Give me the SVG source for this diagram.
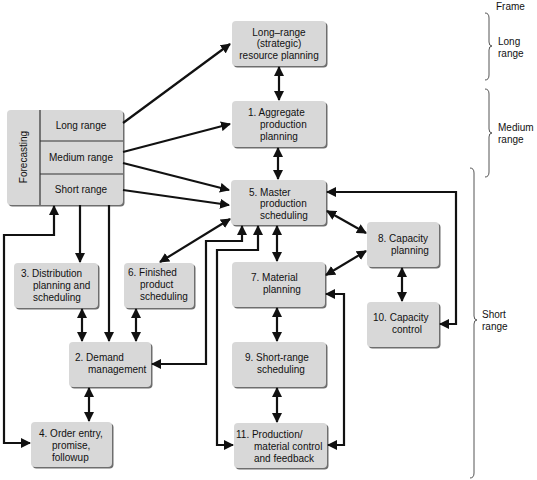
<svg xmlns="http://www.w3.org/2000/svg" width="537" height="480" viewBox="0 0 537 480">
<defs>
<marker id="ah" viewBox="0 0 10 10" refX="9" refY="5" markerWidth="10" markerHeight="10" markerUnits="userSpaceOnUse" orient="auto-start-reverse">
<path d="M0,0 L10,5 L0,10 z" fill="#111"/>
</marker>
</defs>
<style>
.sh{fill:#6e6e6e}
.bx{fill:#d8d8d8}
.t{font-family:"Liberation Sans",Arial,sans-serif;font-size:10px;fill:#111}
.c{text-anchor:middle}
.ln{fill:none;stroke:#111;stroke-width:2.2;marker-end:url(#ah)}
.bi{marker-start:url(#ah)}
.br{fill:none;stroke:#555;stroke-width:1}
.dv{stroke:#333;stroke-width:1.2}
</style>
<rect width="537" height="480" fill="#fff"/>

<g id="forecasting">
<rect class="sh" x="8.5" y="111.5" width="116" height="95" rx="4"/>
<rect class="bx" x="7" y="110" width="116" height="95" rx="4"/>
<line class="dv" x1="40" y1="110" x2="40" y2="205"/>
<line class="dv" x1="40" y1="141" x2="123" y2="141"/>
<line class="dv" x1="40" y1="174" x2="123" y2="174"/>
<text class="t c" transform="translate(27,157) rotate(-90)">Forecasting</text>
<text class="t c" x="81" y="129">Long range</text>
<text class="t c" x="81" y="161">Medium range</text>
<text class="t c" x="81" y="193">Short range</text>
</g>

<g id="longrange">
<rect class="sh" x="233.5" y="22.5" width="94" height="45" rx="4"/>
<rect class="bx" x="232" y="21" width="94" height="45" rx="4"/>
<text class="t c" x="279" y="35.5">Long–range</text>
<text class="t c" x="279" y="47">(strategic)</text>
<text class="t c" x="279" y="58.5">resource planning</text>
</g>

<g id="n1">
<rect class="sh" x="233.5" y="102.5" width="94" height="46" rx="4"/>
<rect class="bx" x="232" y="101" width="94" height="46" rx="4"/>
<text class="t" x="248" y="115.5">1. Aggregate</text>
<text class="t" x="260" y="127.5">production</text>
<text class="t" x="260" y="139.5">planning</text>
</g>

<g id="n5">
<rect class="sh" x="232.5" y="181.5" width="95" height="45" rx="4"/>
<rect class="bx" x="231" y="180" width="95" height="45" rx="4"/>
<text class="t" x="249" y="195.5">5. Master</text>
<text class="t" x="260" y="207">production</text>
<text class="t" x="260" y="218.5">scheduling</text>
</g>

<g id="n3">
<rect class="sh" x="15.5" y="264.5" width="84" height="45" rx="4"/>
<rect class="bx" x="14" y="263" width="84" height="45" rx="4"/>
<text class="t" x="21" y="276.5">3. Distribution</text>
<text class="t" x="33" y="289">planning and</text>
<text class="t" x="33" y="301">scheduling</text>
</g>

<g id="n6">
<rect class="sh" x="125.5" y="264.5" width="70" height="45" rx="4"/>
<rect class="bx" x="124" y="263" width="70" height="45" rx="4"/>
<text class="t" x="128" y="275.5">6. Finished</text>
<text class="t" x="140" y="287.5">product</text>
<text class="t" x="140" y="299.5">scheduling</text>
</g>

<g id="n2">
<rect class="sh" x="70.5" y="343.5" width="82" height="45" rx="4"/>
<rect class="bx" x="69" y="342" width="82" height="45" rx="4"/>
<text class="t" x="75" y="360.5">2. Demand</text>
<text class="t" x="88" y="372.5">management</text>
</g>

<g id="n4">
<rect class="sh" x="32.5" y="423.5" width="81" height="45" rx="4"/>
<rect class="bx" x="31" y="422" width="81" height="45" rx="4"/>
<text class="t" x="39" y="436.5">4. Order entry,</text>
<text class="t" x="52" y="448.5">promise,</text>
<text class="t" x="52" y="460.5">followup</text>
</g>

<g id="n7">
<rect class="sh" x="233.5" y="263.5" width="93" height="45" rx="4"/>
<rect class="bx" x="232" y="262" width="93" height="45" rx="4"/>
<text class="t" x="251" y="280.5">7. Material</text>
<text class="t" x="263" y="293">planning</text>
</g>

<g id="n9">
<rect class="sh" x="233.5" y="343.5" width="94" height="45" rx="4"/>
<rect class="bx" x="232" y="342" width="94" height="45" rx="4"/>
<text class="t" x="245" y="360.5">9. Short-range</text>
<text class="t" x="257" y="372.5">scheduling</text>
</g>

<g id="n11">
<rect class="sh" x="235.5" y="424.5" width="93" height="45" rx="4"/>
<rect class="bx" x="234" y="423" width="93" height="45" rx="4"/>
<text class="t" x="236" y="437.5">11. Production/</text>
<text class="t" x="254" y="449.5">material control</text>
<text class="t" x="254" y="461.5">and feedback</text>
</g>

<g id="n8">
<rect class="sh" x="368.5" y="223.5" width="72" height="45" rx="4"/>
<rect class="bx" x="367" y="222" width="72" height="45" rx="4"/>
<text class="t" x="378" y="241.5">8. Capacity</text>
<text class="t" x="391" y="253.5">planning</text>
</g>

<g id="n10">
<rect class="sh" x="368.5" y="303.5" width="72" height="45" rx="4"/>
<rect class="bx" x="367" y="302" width="72" height="45" rx="4"/>
<text class="t" x="373" y="320.5">10. Capacity</text>
<text class="t" x="392" y="333">control</text>
</g>

<g id="frame">
<text class="t" x="496" y="10">Frame</text>
<path class="br" d="M485,13 Q489,13 489,18 L489,42 Q489,46 492,46 Q489,46 489,50 L489,75 Q489,80 485,80"/>
<text class="t" x="498" y="45">Long</text>
<text class="t" x="498" y="56.5">range</text>
<path class="br" d="M485,89 Q489,89 489,94 L489,129 Q489,133 492,133 Q489,133 489,137 L489,172 Q489,177 485,177"/>
<text class="t" x="498" y="131">Medium</text>
<text class="t" x="498" y="142.5">range</text>
<path class="br" d="M470,168 Q474,168 474,173 L474,316 Q474,320 477,320 Q474,320 474,324 L474,473 Q474,478 470,478"/>
<text class="t" x="482" y="318">Short</text>
<text class="t" x="482" y="330">range</text>
</g>

<g id="connectors">
<path class="ln" d="M123,123 L230,44"/>
<path class="ln" d="M123,152 L230,124"/>
<path class="ln" d="M123,163 L229,190"/>
<path class="ln" d="M123,190 L229,205"/>
<path class="ln bi" d="M160,262 L230,219"/>
<path class="ln" d="M80,205 L80,262"/>
<path class="ln" d="M109,205 L109,341"/>
<path class="ln bi" d="M54,206 L54,235 L4,235 L4,443 L30,443"/>
<path class="ln bi" d="M82,309 L82,341"/>
<path class="ln bi" d="M136,309 L136,341"/>
<path class="ln bi" d="M89,388 L89,421"/>
<path class="ln bi" d="M242,226 L242,241 L206,241 L206,364 L152,364"/>
<path class="ln bi" d="M258,226 L258,250 L217,250 L217,445 L233,445"/>
<path class="ln bi" d="M277,226 L277,261"/>
<path class="ln bi" d="M279,67 L279,100"/>
<path class="ln bi" d="M278,148 L278,179"/>
<path class="ln bi" d="M277,308 L277,341"/>
<path class="ln bi" d="M277,388 L277,422"/>
<path class="ln bi" d="M327,192 L456,192 L456,324 L440,324"/>
<path class="ln bi" d="M327,211 L366,233"/>
<path class="ln bi" d="M366,251 L326,275"/>
<path class="ln bi" d="M402,268 L402,301"/>
<path class="ln bi" d="M326,294 L344,294 L344,445 L328,445"/>
</g>
</svg>
